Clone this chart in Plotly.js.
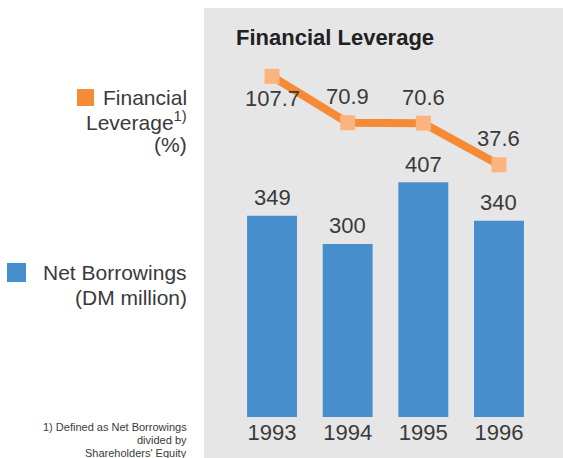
<!DOCTYPE html>
<html>
<head>
<meta charset="utf-8">
<script src="https://cdn.plot.ly/plotly-3.0.1.min.js"></script>
<style>html,body{margin:0;padding:0;background:#fff;}#chart{width:563px;height:458px;}</style>
</head>
<body>
<div id="chart"></div>
<script>
// Data
const years = ["1993", "1994", "1995", "1996"];
const netBorrowings = [349, 300, 407, 340];
const financialLeverage = [107.7, 70.9, 70.6, 37.6];
const leverageLabels = ["107.7", "70.9", "70.6", "37.6"];
const borrowingLabels = ["349", "300", "407", "340"];

const W = 563, H = 458;
const FONT = "Liberation Sans, Arial, sans-serif";
const TXT = "#3a3a3a";
const px = v => v / W;
const py = v => 1 - v / H;

const barTrace = {
  type: "bar", x: years, y: netBorrowings,
  marker: { color: "#478ecd" }, hoverinfo: "skip", yaxis: "y"
};
const lineTrace = {
  type: "scatter", mode: "lines+markers", x: years, y: financialLeverage,
  yaxis: "y2",
  line: { color: "#f68b37", width: 8 },
  marker: { symbol: "square", size: 15, color: "#fbb47e" },
  hoverinfo: "skip"
};

const annotations = [];
years.forEach((yr, i) => {
  annotations.push({
    x: i, y: netBorrowings[i], xref: "x", yref: "y",
    text: borrowingLabels[i], showarrow: false, yanchor: "middle", yshift: 18,
    font: { family: FONT, size: 22, color: TXT }
  });
  const below = i === 0;
  annotations.push({
    x: i, y: financialLeverage[i], xref: "x", yref: "y2",
    text: leverageLabels[i], showarrow: false, yanchor: "middle",
    yshift: below ? -22 : 26,
    font: { family: FONT, size: 22, color: TXT }
  });
});

function leftText(text, yc, size) {
  annotations.push({
    xref: "paper", yref: "paper", x: px(189), y: py(yc),
    xanchor: "right", yanchor: "middle", align: "right", showarrow: false,
    text: text, font: { family: FONT, size: size, color: TXT }
  });
}
leftText("Financial", 97, 21);
leftText("Leverage<sup>1)</sup>", 121, 21);
leftText("(%)", 144, 21);
leftText("Net Borrowings", 272, 21);
leftText("(DM million)", 297, 21);
leftText("1) Defined as Net Borrowings", 427, 11);
leftText("divided by", 440, 11);
leftText("Shareholders' Equity", 453, 11);

annotations.push({
  xref: "paper", yref: "paper", x: px(234), y: py(37),
  xanchor: "left", yanchor: "middle", showarrow: false,
  text: "<b>Financial Leverage</b>",
  font: { family: FONT, size: 22, color: "#222" }
});

const shapes = [
  { type: "rect", xref: "paper", yref: "paper", x0: px(204), x1: 1, y0: 0, y1: py(8),
    fillcolor: "#e6e6e6", line: { width: 0 }, layer: "below" },
  { type: "rect", xref: "paper", yref: "paper", x0: px(77), x1: px(94), y0: py(106), y1: py(89),
    fillcolor: "#f68b37", line: { width: 0 } },
  { type: "rect", xref: "paper", yref: "paper", x0: px(7), x1: px(26), y0: py(282), y1: py(263),
    fillcolor: "#478ecd", line: { width: 0 } }
];

const domY = [41 / H, 1];
const layout = {
  width: W, height: H,
  margin: { l: 0, r: 0, t: 0, b: 0, pad: 0 },
  paper_bgcolor: "#ffffff", plot_bgcolor: "rgba(0,0,0,0)",
  showlegend: false, bargap: 0.34,
  font: { family: FONT, color: TXT },
  xaxis: {
    type: "category", domain: [px(234.2), px(536.8)], range: [-0.5, 3.5],
    showgrid: false, zeroline: false, showline: false, ticks: "",
    tickfont: { family: FONT, size: 22, color: TXT }, fixedrange: true
  },
  yaxis: {
    domain: domY, range: [0, 417 / 0.577], visible: false, fixedrange: true
  },
  yaxis2: {
    domain: domY, overlaying: "y", range: [-162.3, 168.2],
    visible: false, fixedrange: true
  },
  shapes: shapes,
  annotations: annotations
};

Plotly.newPlot("chart", [barTrace, lineTrace], layout, { displayModeBar: false, staticPlot: true });
</script>
</body>
</html>
